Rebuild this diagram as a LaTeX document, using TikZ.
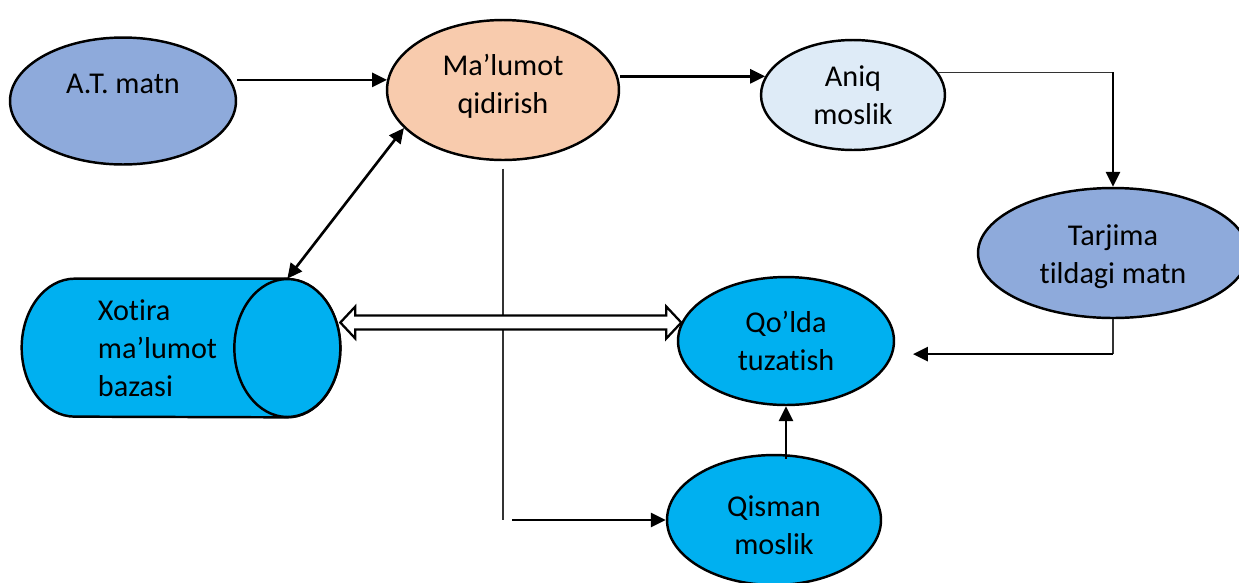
\documentclass[tikz,border=0pt]{standalone}
\usepackage{fontspec}
\setmainfont{Carlito}[Ligatures=NoCommon]
\usetikzlibrary{shapes.geometric,arrows.meta,calc}
\definecolor{atblue}{HTML}{8EAADB}
\definecolor{peach}{HTML}{F8CBAD}
\definecolor{paleblue}{HTML}{DEEBF7}
\definecolor{cyanfill}{HTML}{00B0F0}

\begin{document}
\begin{tikzpicture}[x=0.02cm,y=-0.02cm]
	\tikzset{every node/.style={font=\fontsize{17.2}{21.5}\selectfont, align=center}}
	\tikzset{oval/.style={ellipse, draw, line width=1.4pt, inner sep=0pt}}
	\tikzset{arr/.style={line width=1.5pt, -{Triangle[length=8.5pt,width=8pt]}}}
	\tikzset{dblarr/.style={line width=1.5pt, {Triangle[length=8.5pt,width=8pt]}-{Triangle[length=8.5pt,width=8pt]}}}
	\tikzset{thinline/.style={line width=0.7pt, black!80}}
	\tikzset{hollow/.style={draw, line width=1.3pt, fill=white, line join=miter}}
	\tikzset{endcap/.style={x radius=1.06cm, y radius=1.38cm}}
	\useasboundingbox (0,0) rectangle (1239,582);
	% ovals
	\node[oval, fill=atblue, minimum width=4.52cm, minimum height=2.54cm,
		label={[yshift=0.34cm]center:A.T. matn}] (atmatn) at (123,101) {};
	\node[oval, fill=peach, minimum width=4.64cm, minimum height=2.8cm,
		label={[yshift=0.07cm]center:Ma’lumot\\qidirish}] (malumot) at (503,90) {};
	\node[oval, fill=paleblue, minimum width=3.68cm, minimum height=2.2cm] (aniq) at (853,95) {Aniq\\moslik};
	\node[oval, fill=atblue, minimum width=5.4cm, minimum height=2.6cm,
		label={[yshift=-0.08cm]center:Tarjima\\tildagi matn}] (tarjima) at (1113,253) {};
	\node[oval, fill=cyanfill, minimum width=4.32cm, minimum height=2.56cm] (qolda) at (786,341) {Qo’lda\\tuzatish};
	\node[oval, fill=cyanfill, minimum width=4.28cm, minimum height=2.6cm,
		label={[yshift=-0.1cm]center:Qisman\\moslik}] (qisman) at (774,520) {};
	% database
	\node[minimum width=6.36cm, minimum height=2.76cm, inner sep=0pt] (xotira) at (181,348) {};
	\draw[line width=1.4pt, fill=cyanfill] ([xshift=-1.06cm]xotira.north east) -- ([xshift=1.06cm]xotira.north west)
		arc[start angle=90, end angle=270, endcap] -- ([xshift=-1.06cm]xotira.south east)
		arc[start angle=-90, end angle=90, endcap] -- cycle;
	\draw[line width=1.4pt, fill=cyanfill] ([xshift=-1.06cm]xotira.east) ellipse[endcap];
	\node[align=left] (xotiratext) at ([xshift=-0.47cm]xotira.center) {Xotira\\ma’lumot\\bazasi};
	% connectors
	\draw[arr] (malumot.175 -| atmatn.east) -- (malumot.175);
	\draw[arr] (aniq.168 -| malumot.east) -- (aniq.168);
	\draw[thinline] (aniq.15) -- (aniq.15 -| tarjima.north);
	\draw[arr] (aniq.15 -| tarjima.north) -- (tarjima.north);
	\draw[thinline] (tarjima.south) -- (tarjima.south |- qolda.-7);
	\draw[arr, shorten >=0.4cm] (tarjima.south |- qolda.-7) -- (qolda.-7);
	\draw[thinline, shorten <=0.15cm] (malumot.south) -- (malumot.south |- qisman.west);
	\draw[arr, shorten <=0.18cm] (malumot.south |- qisman.west) -- (qisman.west);
	\draw[arr, shorten <=-0.1cm] (qolda.south |- qisman.north) -- (qolda.south);
	\draw[dblarr] (malumot.201) -- ([xshift=-1.06cm]xotira.north east);
	% hollow double arrow
	\coordinate (dl) at (qolda.170 -| xotira.east);
	\coordinate (dr) at (qolda.170);
	\path[hollow] (dl) -- ++(15,-16) -- ++(0,9) -- ($(dr)+(-15,-7)$) -- ++(0,-9) -- (dr)
		-- ++(-15,16) -- ++(0,-9) -- ($(dl)+(15,7)$) -- ++(0,9) -- cycle;
\end{tikzpicture}
\end{document}
